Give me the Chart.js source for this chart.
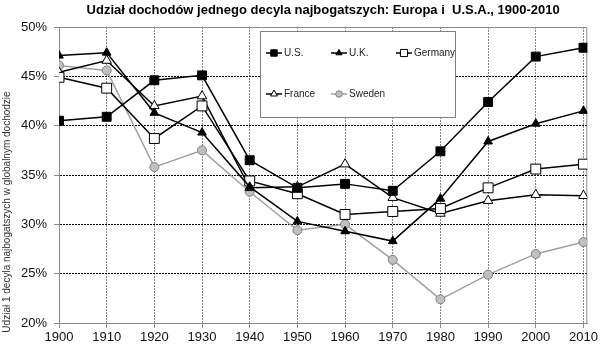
<!DOCTYPE html>
<html lang="pl">
<head>
    <meta charset="UTF-8">
    <title>Udział dochodów jednego decyla najbogatszych</title>
    <script src="https://cdn.jsdelivr.net/npm/chart.js"></script>
    <style>
        body {
            margin: 0;
            padding: 0;
            background: #fff;
        }
        #chart-container {
            width: 600px;
            height: 348px;
        }
    </style>
</head>
<body>
    <div id="chart-container">
        <canvas id="incomeChart"></canvas>
    </div>

    <script>
        // data (percent of national income)
        const years = [1900, 1910, 1920, 1930, 1940, 1950, 1960, 1970, 1980, 1990, 2000, 2010];
        const us = [40.5, 40.9, 44.6, 45.1, 36.5, 33.7, 34.1, 33.4, 37.4, 42.4, 47.0, 47.9];
        const uk = [47.1, 47.4, 41.3, 39.3, 33.8, 30.3, 29.3, 28.3, 32.6, 38.4, 40.2, 41.5];
        const germany = [44.9, 43.8, 38.7, 42.0, 34.4, 33.1, 31.0, 31.3, 31.6, 33.7, 35.6, 36.1];
        const france = [45.4, 46.6, 42.0, 43.0, 33.7, 33.8, 36.1, 32.7, 31.1, 32.4, 33.0, 32.9];
        const sweden = [46.1, 45.6, 35.8, 37.5, 33.3, 29.4, 30.0, 26.4, 22.4, 24.9, 27.0, 28.2];
        const yTicks = [20, 25, 30, 35, 40, 45, 50];

        const chartTitle = 'Udział dochodów jednego decyla najbogatszych: Europa i  U.S.A., 1900-2010';
        const yTitle = 'Udział 1 decyla najbogatszych w globalnym dochodzie';
        const font = "Arial, 'Liberation Sans', sans-serif";

        function series(label, values, style) {
            return Object.assign({
                label: label,
                data: values.map((v, i) => ({ x: years[i], y: v })),
                borderWidth: 1.5,
                tension: 0,
                pointBorderWidth: 1,
                pointHoverRadius: 5
            }, style);
        }

        const datasets = [
            series('U.S.', us, { borderColor: '#000', pointStyle: 'rect', pointRadius: 6.3, pointBackgroundColor: '#000', pointBorderColor: '#000' }),
            series('U.K.', uk, { borderColor: '#000', pointStyle: 'triangle', pointRadius: 5, pointBackgroundColor: '#000', pointBorderColor: '#000' }),
            series('Germany', germany, { borderColor: '#000', pointStyle: 'rect', pointRadius: 7, pointBackgroundColor: '#fff', pointBorderColor: '#000' }),
            series('France', france, { borderColor: '#000', pointStyle: 'triangle', pointRadius: 5.5, pointBackgroundColor: '#fff', pointBorderColor: '#000' }),
            series('Sweden', sweden, { borderColor: '#a0a0a0', pointStyle: 'circle', pointRadius: 4.5, pointBackgroundColor: '#c0c0c0', pointBorderColor: '#7f7f7f' })
        ];

        // title over the plot, y title, plot frame and the boxed legend
        const decorations = {
            id: 'decorations',
            beforeDatasetsDraw(chart) {
                const { ctx, chartArea: a } = chart;
                ctx.save();
                ctx.strokeStyle = '#8c8c8c';
                ctx.lineWidth = 1;
                ctx.beginPath();
                ctx.moveTo(a.left, a.top + 0.5);
                ctx.lineTo(a.right - 0.5, a.top + 0.5);
                ctx.lineTo(a.right - 0.5, a.bottom);
                ctx.stroke();
                ctx.restore();
            },
            afterDraw(chart) {
                const { ctx, chartArea: a } = chart;
                ctx.save();
                ctx.fillStyle = '#000';
                ctx.font = 'bold 13px ' + font;
                ctx.textAlign = 'center';
                ctx.textBaseline = 'middle';
                ctx.fillText(chartTitle, (a.left + a.right) / 2, 10);

                // rotated axis title, sits a bit low like the original
                ctx.save();
                ctx.translate(7, 212);
                ctx.rotate(-Math.PI / 2);
                ctx.fillStyle = '#333';
                ctx.font = '10px ' + font;
                ctx.fillText(yTitle, 0, 0);
                ctx.restore();

                // legend box
                ctx.fillStyle = '#fff';
                ctx.fillRect(260, 31, 195, 86);
                ctx.strokeStyle = '#808080';
                ctx.strokeRect(260.5, 31.5, 195, 86);

                const slots = [[266, 53], [331, 53], [396, 53], [266, 94], [331, 94]];
                chart.data.datasets.forEach((ds, i) => {
                    const [x, y] = slots[i];
                    ctx.strokeStyle = ds.borderColor;
                    ctx.lineWidth = 1.5;
                    ctx.beginPath();
                    ctx.moveTo(x, y);
                    ctx.lineTo(x + 16, y);
                    ctx.stroke();
                    ctx.fillStyle = ds.pointBackgroundColor;
                    ctx.strokeStyle = ds.pointBorderColor;
                    ctx.lineWidth = 1;
                    Chart.helpers.drawPoint(ctx, {
                        pointStyle: ds.pointStyle,
                        radius: ds.pointRadius * 0.72,
                        rotation: 0,
                        borderWidth: 1
                    }, x + 8, y);
                    ctx.fillStyle = '#222';
                    ctx.font = '10px ' + font;
                    ctx.textAlign = 'left';
                    ctx.fillText(ds.label, x + 18, y);
                });
                ctx.restore();
            }
        };

        const ctx = document.getElementById('incomeChart').getContext('2d');
        new Chart(ctx, {
            type: 'line',
            data: { datasets: datasets },
            options: {
                responsive: true,
                maintainAspectRatio: false,
                animation: false,
                layout: { padding: { top: 27, right: 12, left: 0, bottom: 0 } },
                plugins: {
                    legend: { display: false },
                    title: { display: false },
                    tooltip: { enabled: true }
                },
                scales: {
                    x: {
                        type: 'linear',
                        min: 1900,
                        max: 2010.8,
                        afterBuildTicks: s => { s.ticks = years.map(v => ({ value: v })); },
                        afterFit: s => { s.height = 25; },
                        ticks: {
                            color: '#111',
                            font: { family: font, size: 13 },
                            padding: 2,
                            maxRotation: 0,
                            autoSkip: false,
                            callback: v => String(v)
                        },
                        grid: {
                            color: c => (c.tick && c.tick.value === 1900) ? 'rgba(0,0,0,0)' : '#858585',
                            lineWidth: 1,
                            tickColor: '#8c8c8c',
                            tickLength: 5,
                            tickBorderDash: []
                        },
                        border: { color: '#8c8c8c', width: 1, dash: [2, 1] }
                    },
                    y: {
                        min: 20,
                        max: 50,
                        afterBuildTicks: s => { s.ticks = yTicks.map(v => ({ value: v })); },
                        afterFit: s => { s.width = 59; },
                        ticks: {
                            color: '#111',
                            font: { family: font, size: 13 },
                            padding: 7,
                            callback: v => v + '%'
                        },
                        grid: {
                            color: c => (c.tick && (c.tick.value === 20 || c.tick.value === 50)) ? 'rgba(0,0,0,0)' : '#000',
                            lineWidth: 1,
                            tickColor: '#8c8c8c',
                            tickLength: 5,
                            tickBorderDash: []
                        },
                        border: { color: '#8c8c8c', width: 1, dash: [2, 1] }
                    }
                }
            },
            plugins: [decorations]
        });
    </script>
</body>
</html>
